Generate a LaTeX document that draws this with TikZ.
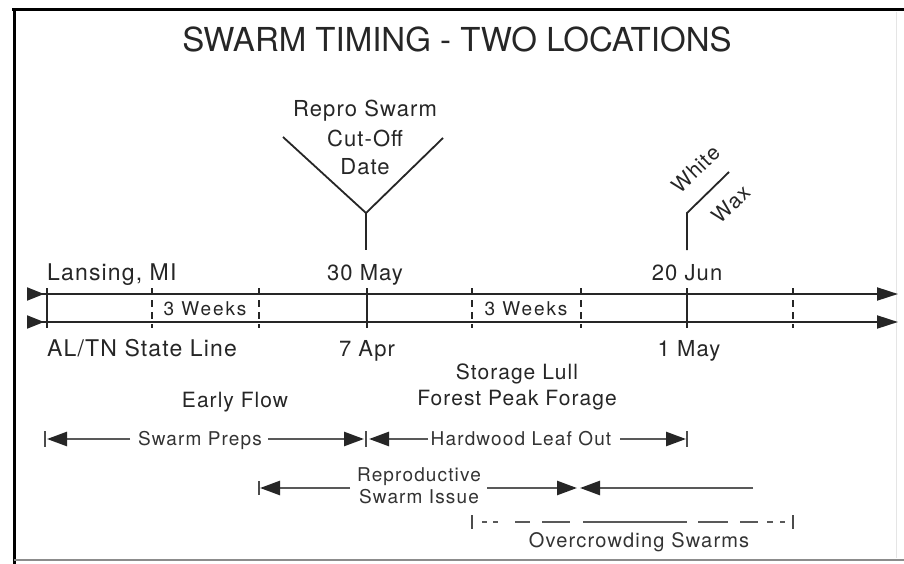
\documentclass[tikz,border=0pt]{standalone}
\usepackage{fontspec}
\setmainfont{TeX Gyre Heros}
\newfontfamily\labfont[LetterSpace=5]{TeX Gyre Heros}
\newfontfamily\wkfont[LetterSpace=10]{TeX Gyre Heros}
\newfontfamily\botfont[LetterSpace=6]{TeX Gyre Heros}
\usetikzlibrary{arrows.meta}
\begin{document}
\begin{tikzpicture}[x=1pt,y=-1pt,
  txt/.style={inner sep=0pt, anchor=base, text=black!85},
  ttl/.style={txt, font=\fontsize{33}{38}\selectfont},
  midlab/.style={txt, font=\labfont\fontsize{22}{26}\selectfont},
  biglab/.style={txt, font=\labfont\fontsize{23}{27}\selectfont},
  smlab/.style={txt, font=\labfont\fontsize{21}{25}\selectfont},
  wklab/.style={txt, font=\wkfont\fontsize{19}{23}\selectfont},
  botlab/.style={txt, font=\botfont\fontsize{19}{23}\selectfont, text=black!80},
  tl/.style={line width=2pt, draw=black!85},
  solidtick/.style={line width=2pt, draw=black!85},
  dashtick/.style={line width=2pt, draw=black!85, dash pattern=on 7pt off 5pt},
  pointer/.style={line width=1.8pt, draw=black!85},
  barr/.style={line width=2.6pt, draw=black!65, -{Triangle[length=20pt,width=14pt,color=black!85]}},
  btick/.style={line width=1.8pt, draw=black!70},
]
\useasboundingbox (0,0) rectangle (904,564);
\fill[white] (0,0) rectangle (904,564);
% frame
\coordinate (fTL) at (14,10);
\coordinate (fTR) at (904,10);
\coordinate (fBL) at (14,564);
\coordinate (fBL2) at (14,560);
\coordinate (fBR) at (904,560);
\coordinate (fRT) at (896,12);
\coordinate (fRB) at (896,558);
\draw[line width=3pt, black] (12,10) -- (fTR);
\draw[line width=3pt, black] (fTL) -- (fBL);
\draw[line width=1.5pt, black!45] (fBL2) -- (fBR);
\draw[line width=0.8pt, black!10] (fRT) -- (fRB);

% title
\node[ttl] (title) at (457,52) {SWARM TIMING - TWO LOCATIONS};

% repro swarm cut-off V
\node[midlab] (rs1) at (365,117) {Repro Swarm};
\node[midlab] (rs2) at (365,147) {Cut-Off};
\node[midlab] (rs3) at (365,175) {Date};
\coordinate (vL) at (283,137);
\coordinate (vR) at (443,138);
\coordinate (vA) at (366,213);
\coordinate (vS) at (366,250);
\draw[pointer] (vL) -- (vA) -- (vR);
\draw[pointer] (vA) -- (vS);

% white wax
\coordinate (wS) at (687,250);
\coordinate (wA) at (687,213);
\coordinate (wE) at (729,172);
\draw[pointer] (wS) -- (wA) -- (wE);
\node[smlab, anchor=center, rotate=44] (white) at (696,169) {White};
\node[smlab, anchor=center, rotate=44] (wax) at (731,204) {Wax};

% labels above/below timelines
\node[biglab, anchor=base west] (lans) at (47,280) {Lansing, MI};
\node[midlab] (may30) at (365,280) {30 May};
\node[midlab] (jun20) at (687,280) {20 Jun};
\node[biglab, anchor=base west] (altn) at (47,356) {AL/TN State Line};
\node[midlab] (apr7) at (367,356) {7 Apr};
\node[midlab] (may1) at (689,356) {1 May};
\node[wklab] (wk1) at (205,315) {3 Weeks};
\node[wklab] (wk2) at (526,315) {3 Weeks};

% timelines
\coordinate (t1s) at (27,294);
\coordinate (t1e) at (898,294);
\coordinate (t2s) at (27,322);
\coordinate (t2e) at (898,322);
\draw[tl, {Triangle[reversed,length=17pt,width=13pt]}-{Triangle[length=21pt,width=13pt]}] (t1s) -- (t1e);
\draw[tl, {Triangle[reversed,length=17pt,width=13pt]}-{Triangle[length=21pt,width=13pt]}] (t2s) -- (t2e);

% ticks
\foreach \x/\n in {47/a,367/b,687/c}{
  \coordinate (st\n) at (\x,288);
  \coordinate (sb\n) at (\x,328);
  \draw[solidtick] (st\n) -- (sb\n);
}
\foreach \x/\n in {152/a,259/b,472/c,581/d,793/e}{
  \coordinate (dt\n) at (\x,288);
  \coordinate (db\n) at (\x,328);
  \draw[dashtick] (dt\n) -- (db\n);
}

% middle labels
\node[smlab] (lull) at (517,379) {Storage Lull};
\node[smlab] (forest) at (517,405) {Forest Peak Forage};
\node[smlab] (early) at (235,407) {Early Flow};

% row 1
\node[botlab] (preps) at (200,445) {Swarm Preps};
\node[botlab] (hard) at (521,445) {Hardwood Leaf Out};
\coordinate (p0) at (47,439);
\coordinate (p1) at (130,439);
\coordinate (p2) at (268,439);
\coordinate (p3) at (364,439);
\coordinate (h0) at (369,439);
\coordinate (h1) at (428,439);
\coordinate (h2) at (620,439);
\coordinate (h3) at (686,439);
\draw[barr] (p1) -- (p0);
\draw[barr] (p2) -- (p3);
\draw[barr] (h1) -- (h0);
\draw[barr] (h2) -- (h3);
\coordinate (k1a) at (45,431); \coordinate (k1b) at (45,447);
\coordinate (k2a) at (366,431); \coordinate (k2b) at (366,447);
\coordinate (k3a) at (687,431); \coordinate (k3b) at (687,447);
\draw[btick] (k1a) -- (k1b);
\draw[btick] (k2a) -- (k2b);
\draw[btick] (k3a) -- (k3b);

% row 2
\node[botlab] (repro1) at (419,481) {Reproductive};
\node[botlab] (repro2) at (419,503) {Swarm Issue};
\coordinate (r0) at (260,488);
\coordinate (r1) at (350,488);
\coordinate (r2) at (487,488);
\coordinate (r3) at (577,488);
\coordinate (r4) at (580,488);
\coordinate (r5) at (753,488);
\draw[barr] (r1) -- (r0);
\draw[barr] (r2) -- (r3);
\draw[barr] (r5) -- (r4);
\coordinate (k4a) at (259,481); \coordinate (k4b) at (259,495);
\draw[btick] (k4a) -- (k4b);

% row 3
\coordinate (o0) at (482,522);
\coordinate (o1) at (785,522);
\draw[line width=2.4pt, draw=black!65, dash pattern=on 5pt off 6pt on 5pt off 17pt on 15pt off 12pt on 28pt off 13pt on 104pt off 11pt on 30pt off 12pt on 18pt off 9pt on 6pt off 7pt on 5pt off 20pt] (o0) -- (o1);
\coordinate (k5a) at (472,515); \coordinate (k5b) at (472,529);
\coordinate (k6a) at (793,515); \coordinate (k6b) at (793,529);
\draw[btick] (k5a) -- (k5b);
\draw[btick] (k6a) -- (k6b);
\node[botlab, font=\botfont\fontsize{20}{24}\selectfont] (over) at (639,547) {Overcrowding Swarms};
\end{tikzpicture}
\end{document}
